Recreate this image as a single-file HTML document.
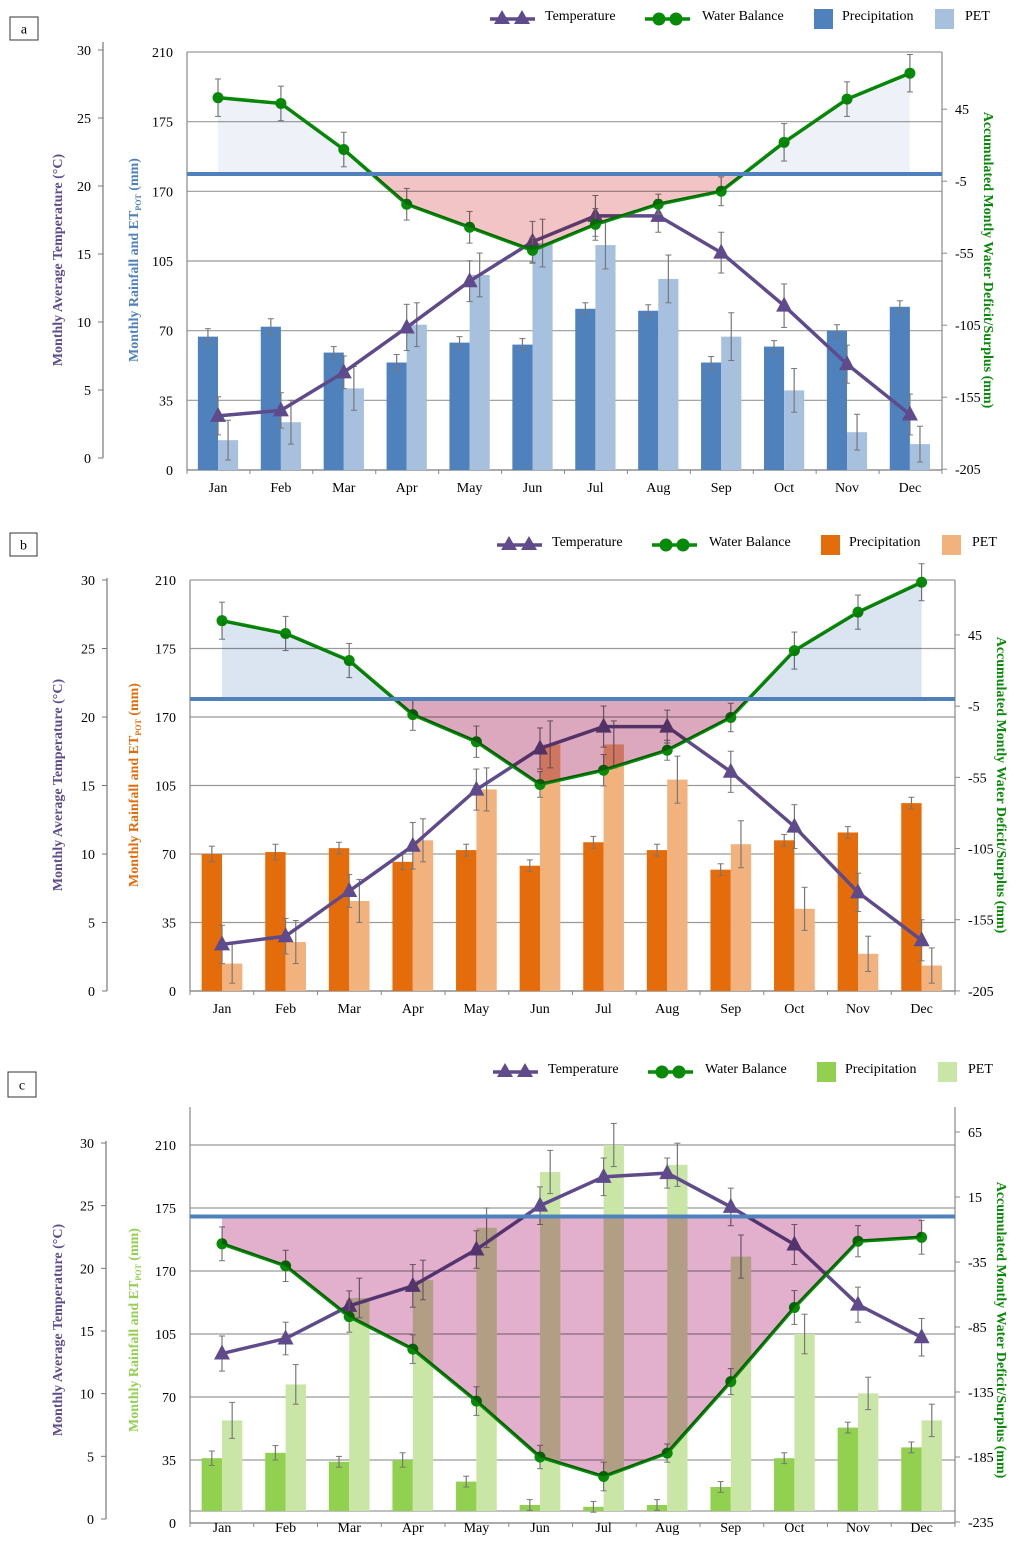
<!DOCTYPE html>
<html><head><meta charset="utf-8">
<style>
html,body{margin:0;padding:0;background:#fff;}
svg text{font-family:"Liberation Serif",serif;}
</style></head>
<body>
<svg id="chart" width="1024" height="1542" viewBox="0 0 1024 1542" xmlns="http://www.w3.org/2000/svg"></svg>
<script>
const months = ["Jan","Feb","Mar","Apr","May","Jun","Jul","Aug","Sep","Oct","Nov","Dec"];
const rainTickVals = [0,35,70,105,140,175,210];
const rainTickLabels = ["0","35","70","105","170","175","210"];
const tempTickVals = [0,5,10,15,20,25,30];

// Panel a
const tempA = [3.1,3.5,6.3,9.6,13.0,15.9,17.8,17.8,15.1,11.2,6.9,3.2];
const wbA = [53,49,17,-21,-37,-53,-35,-21,-12,22,52,70];
const precA = [67,72,59,54,64,63,81,80,54,62,70,82];
const petA = [15,24,41,73,98,114,113,96,67,40,19,13];
const wbTicksA = [45,-5,-55,-105,-155,-205];
// Panel b
const tempB = [3.4,4.0,7.3,10.6,14.7,17.7,19.3,19.3,16.0,12.0,7.2,3.7];
const wbB = [55,46,27,-11,-30,-60,-50,-36,-13,34,61,82];
const precB = [70,71,73,66,72,64,76,72,62,77,81,96];
const petB = [14,25,46,77,103,126,126,108,75,42,19,13];
const wbTicksB = [45,-5,-55,-105,-155,-205];
// Panel c
const tempC = [13.2,14.4,17.0,18.6,21.5,25.0,27.3,27.6,24.9,21.9,17.1,14.5];
const wbC = [-21,-38,-77,-102,-142,-185,-200,-182,-127,-70,-19,-16];
const precC = [36,39,34,35,23,10,9,10,20,36,53,42];
const petC = [57,77,125,135,164,195,210,199,148,105,72,57];
const wbTicksC = [65,15,-35,-85,-135,-185,-235];
// error magnitudes
const tempErr = [1.4,1.3,1.2,1.7,1.5,1.5,1.5,1.2,1.5,1.6,1.4,1.5];
const wbErr = [13,12,12,11,11,9,11,7,10,13,12,13];
const precErr = [4,4,3,4,3,3,3,3,3,3,3,3];
const petErr = [10,11,11,11,11,12,12,12,12,11,9,9];

const NS="http://www.w3.org/2000/svg";
const svg=document.getElementById('chart');
function mk(tag,attrs,parent){const e=document.createElementNS(NS,tag);for(const k in attrs)e.setAttribute(k,attrs[k]);(parent||svg).appendChild(e);return e;}

const panels=[
 {id:'a',label:'a',box:[10,17,28,23],left:187,right:942,top:52,x0:218,dx:62.9,rainY0:470,rainTop:52,barBase:470,axisY:470,
  tempY0:458,tempY30:50,tempAxisX:103,tempAxisTop:42,wbTicks:wbTicksA,wbY0:174,wbPx:1.44,
  temp:tempA,wb:wbA,prec:precA,pet:petA,precCol:'#4f81bd',petCol:'#a7c0de',rainTitleCol:'#4f81bd',
  posFill:'#eef2f8',negFill:'#f3c4c6',legY:15,legX:490,monthY:492,titleMid:260},
 {id:'b',label:'b',box:[10,533,27,23],left:190,right:955,top:580,x0:222,dx:63.6,rainY0:991,rainTop:580,barBase:991,axisY:991,
  tempY0:991,tempY30:580,tempAxisX:107,tempAxisTop:578,wbTicks:wbTicksB,wbY0:699,wbPx:1.424,
  temp:tempB,wb:wbB,prec:precB,pet:petB,precCol:'#e46c0a',petCol:'#f1b27e',rainTitleCol:'#e46c0a',
  posFill:'#dbe4f1',negFill:'#dca8bd',legY:541,legX:497,monthY:1013,titleMid:785},
 {id:'c',label:'c',box:[8,1072,28,25],left:190,right:955,top:1107,x0:222,dx:63.6,rainY0:1523,rainTop:1145,barBase:1511,axisY:1523,
  tempY0:1519,tempY30:1143,tempAxisX:106,tempAxisTop:1141,wbTicks:wbTicksC,wbY0:1216.5,wbPx:1.3,
  temp:tempC,wb:wbC,prec:precC,pet:petC,precCol:'#92d050',petCol:'#c9e6a6',rainTitleCol:'#92d050',
  posFill:'#e0b0cc',negFill:'#e2afcc',legY:1068,legX:493,monthY:1532,titleMid:1330}
];

panels.forEach(p=>{
 const g=mk('g',{});
 
 
 const xC=i=>p.x0+i*p.dx;
 const yR=v=>p.rainY0-(p.rainY0-p.rainTop)*v/210;
 const yT=v=>p.tempY0-(p.tempY0-p.tempY30)*v/30;
 const yW=v=>p.wbY0-p.wbPx*v;
 // label box
 const lb=mk('g',{},g);  
 mk('rect',{x:p.box[0],y:p.box[1],width:p.box[2],height:p.box[3],fill:'#fff',stroke:'#333','stroke-width':1},lb);
 const lt=mk('text',{x:p.box[0]+p.box[2]/2,y:p.box[1]+p.box[3]/2+5,'text-anchor':'middle','font-size':14,fill:'#000'},lb); lt.textContent=p.label;
 // gridlines
 rainTickVals.forEach((v,i)=>{
  const y=yR(v);
  const gl=mk('line',{x1:p.left,x2:p.right,y1:y,y2:y,stroke:'#9a9a9a','stroke-width':1.2},g);
   
  const t=mk('text',{x:p.left-14,y:y+5,'text-anchor':'end','font-size':14,fill:'#000'},g); t.textContent=rainTickLabels[i];
   
 });
 if(p.barBase!==p.axisY) mk('line',{x1:p.left,x2:p.right,y1:p.barBase,y2:p.barBase,stroke:'#9a9a9a','stroke-width':1.2},g);
 // axes
 mk('line',{x1:p.left,x2:p.left,y1:p.top,y2:p.axisY,stroke:'#888','stroke-width':1.2},g);
 mk('line',{x1:p.right,x2:p.right,y1:p.top,y2:p.axisY,stroke:'#888','stroke-width':1.2},g);
 mk('line',{x1:p.left,x2:p.right,y1:p.axisY,y2:p.axisY,stroke:'#888','stroke-width':1.2},g);
 for(let i=0;i<=12;i++){const x=p.left+i*(p.right-p.left)/12;mk('line',{x1:x,x2:x,y1:p.axisY,y2:p.axisY+4,stroke:'#888'},g);}
 // temp axis
 mk('line',{x1:p.tempAxisX,x2:p.tempAxisX,y1:p.tempAxisTop,y2:p.tempY0,stroke:'#777','stroke-width':1.2},g);
 tempTickVals.forEach(v=>{const y=yT(v);mk('line',{x1:p.tempAxisX-5,x2:p.tempAxisX,y1:y,y2:y,stroke:'#777'},g);
  const t=mk('text',{x:p.tempAxisX-12,y:y+5,'text-anchor':'end','font-size':14,fill:'#000'},g);t.textContent=v;
   });
 // wb ticks
 p.wbTicks.forEach(v=>{const y=yW(v);mk('line',{x1:p.right,x2:p.right+5,y1:y,y2:y,stroke:'#888'},g);
  const t=mk('text',{x:p.right+13,y:y+5,'text-anchor':'start','font-size':14,fill:'#000'},g);t.textContent=v;
   });
 // month labels
 months.forEach((m,i)=>{const t=mk('text',{x:xC(i),y:p.monthY,'text-anchor':'middle','font-size':14,fill:'#000'},g);t.textContent=m;
   });
 // bars
 const bw=p.dx*0.32;
 const eb=(x,y,e)=>{mk('line',{x1:x,x2:x,y1:y-e,y2:y+e,stroke:'#777','stroke-width':1.2},g);
  mk('line',{x1:x-3,x2:x+3,y1:y-e,y2:y-e,stroke:'#777'},g);mk('line',{x1:x-3,x2:x+3,y1:y+e,y2:y+e,stroke:'#777'},g);};
 p.prec.forEach((v,i)=>{const y=Math.min(yR(v),p.barBase-2);
  const r=mk('rect',{x:xC(i)-bw,y:y,width:bw,height:p.barBase-y,fill:p.precCol},g);
   
  eb(xC(i)-bw/2,y,precErr[i]*(p.rainY0-p.rainTop)/210);});
 p.pet.forEach((v,i)=>{const y=Math.min(yR(v),p.barBase-2);
  const r=mk('rect',{x:xC(i),y:y,width:bw,height:p.barBase-y,fill:p.petCol},g);
   
  eb(xC(i)+bw/2,y,petErr[i]*(p.rainY0-p.rainTop)/210);});
 // temp line
 const tpts=p.temp.map((v,i)=>xC(i)+','+yT(v)).join(' ');
 p.temp.forEach((v,i)=>eb(xC(i),yT(v),tempErr[i]*(p.tempY0-p.tempY30)/30));
 const tl=mk('polyline',{points:tpts,fill:'none',stroke:'#5f4b8b','stroke-width':3.5},g);
  
 p.temp.forEach((v,i)=>{const x=xC(i),y=yT(v);
  const m=mk('polygon',{points:`${x},${y-9} ${x-8},${y+6} ${x+8},${y+6}`,fill:'#5f4b8b'},g);
   });
 // wb line
 p.wb.forEach((v,i)=>eb(xC(i),yW(v),wbErr[i]*p.wbPx));
 const wl=mk('polyline',{points:p.wb.map((v,i)=>xC(i)+','+yW(v)).join(' '),fill:'none',stroke:'#078a07','stroke-width':3.5},g);
  
 p.wb.forEach((v,i)=>{const c=mk('circle',{cx:xC(i),cy:yW(v),r:5.5,fill:'#078a07'},g);
   });
 // area fills (multiply on top)
 const z=p.wbY0;
 const poly=`${xC(0)},${z} `+p.wb.map((v,i)=>xC(i)+','+yW(v)).join(' ')+` ${xC(11)},${z}`;
 const defs=mk('defs',{},g);
 const cp1=mk('clipPath',{id:'pos'+p.id},defs);mk('rect',{x:0,y:p.top,width:1024,height:z-p.top},cp1);
 const cp2=mk('clipPath',{id:'neg'+p.id},defs);mk('rect',{x:0,y:z,width:1024,height:p.axisY-z},cp2);
 const a1=mk('polygon',{points:poly,fill:p.posFill,'clip-path':`url(#pos${p.id})`,style:'mix-blend-mode:multiply'},g);
  
 const a2=mk('polygon',{points:poly,fill:p.negFill,'clip-path':`url(#neg${p.id})`,style:'mix-blend-mode:multiply'},g);
  
 const zl=mk('line',{x1:p.left,x2:p.right,y1:z,y2:z,stroke:'#4f81bd','stroke-width':4},g);
  
 // axis titles
 const t1=mk('text',{transform:`translate(62,${p.titleMid}) rotate(-90)`,'text-anchor':'middle','font-size':14,'font-weight':'bold',fill:'#5f4b8b'},g);
 t1.textContent='Monthly Average Temperature (°C)';
  
 const t2=mk('text',{transform:`translate(138,${p.titleMid}) rotate(-90)`,'text-anchor':'middle','font-size':14,'font-weight':'bold',fill:p.rainTitleCol},g);
 t2.innerHTML='Monthly Rainfall and ET<tspan font-size="8" dy="3">POT</tspan><tspan dy="-3"> (mm)</tspan>';
  
 const t3=mk('text',{transform:`translate(${p.right+42},${p.titleMid}) rotate(90)`,'text-anchor':'middle','font-size':14,'font-weight':'bold',fill:'#078a07'},g);
 t3.textContent='Accumulated Montly Water Deficit/Surplus (mm)';
  
 // legend
 const L=mk('g',{},g);  
 const lx=p.legX, ly=p.legY+4;
 mk('line',{x1:lx,x2:lx+45,y1:ly,y2:ly,stroke:'#5f4b8b','stroke-width':3.5},L);
 [lx+12,lx+32].forEach(x=>mk('polygon',{points:`${x},${ly-9} ${x-8},${ly+5} ${x+8},${ly+5}`,fill:'#5f4b8b'},L));
 let t=mk('text',{x:lx+55,y:ly+1,'font-size':14,fill:'#000'},L);t.textContent='Temperature';
 const wx=lx+155;
 mk('line',{x1:wx,x2:wx+45,y1:ly,y2:ly,stroke:'#078a07','stroke-width':3.5},L);
 [wx+14,wx+31].forEach(x=>mk('circle',{cx:x,cy:ly,r:6.5,fill:'#078a07'},L));
 t=mk('text',{x:wx+57,y:ly+1,'font-size':14,fill:'#000'},L);t.textContent='Water Balance';
 const px=lx+324;
 mk('rect',{x:px,y:ly-10,width:19,height:20,fill:p.precCol},L);
 t=mk('text',{x:px+28,y:ly+1,'font-size':14,fill:'#000'},L);t.textContent='Precipitation';
 const ex=lx+445;
 mk('rect',{x:ex,y:ly-10,width:19,height:20,fill:p.petCol},L);
 t=mk('text',{x:ex+30,y:ly+1,'font-size':14,fill:'#000'},L);t.textContent='PET';
});
</script>
</body></html>
